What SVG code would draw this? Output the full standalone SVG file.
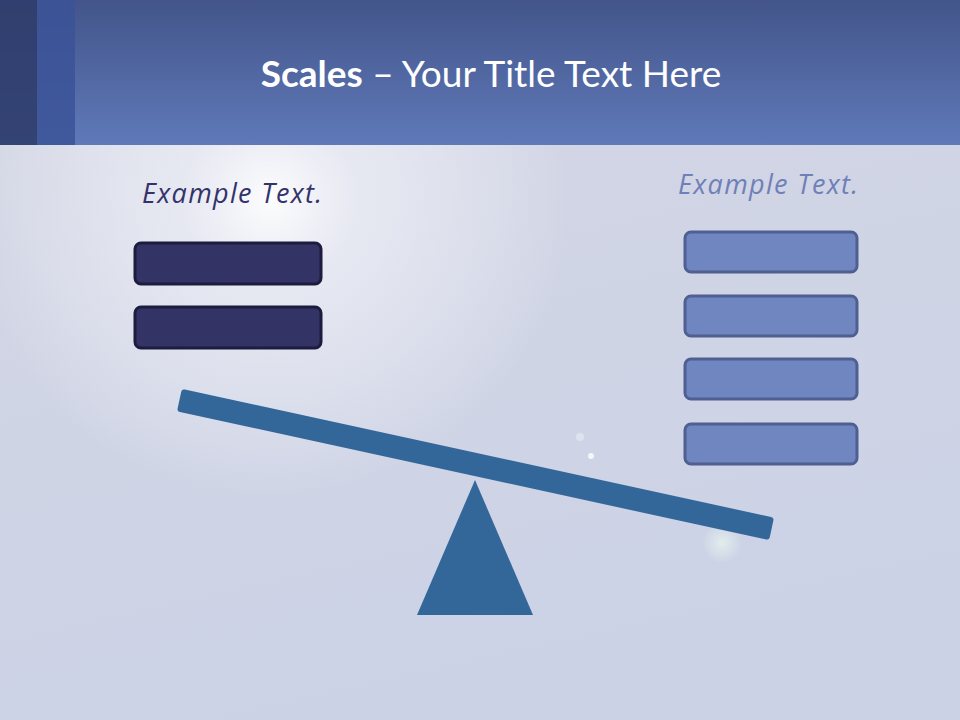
<svg xmlns="http://www.w3.org/2000/svg" width="960" height="720" viewBox="0 0 960 720">
<defs>
<linearGradient id="hdr" x1="0" y1="0" x2="0" y2="1">
<stop offset="0" stop-color="#43558a"/>
<stop offset="1" stop-color="#5f79b9"/>
</linearGradient>
<linearGradient id="bg" x1="0" y1="0" x2="0.3" y2="1">
<stop offset="0" stop-color="#d4d7e4"/>
<stop offset="1" stop-color="#ccd2e6"/>
</linearGradient>
<radialGradient id="sun" cx="270" cy="200" r="300" gradientUnits="userSpaceOnUse">
<stop offset="0" stop-color="#ffffff" stop-opacity="0.95"/>
<stop offset="0.3" stop-color="#f4f4fa" stop-opacity="0.6"/>
<stop offset="1" stop-color="#ffffff" stop-opacity="0"/>
</radialGradient>
<radialGradient id="flare">
<stop offset="0" stop-color="#e6f4ee" stop-opacity="0.8"/>
<stop offset="1" stop-color="#e6f4ee" stop-opacity="0"/>
</radialGradient>
<style>
.lb{fill:#333366;stroke:#1c1c3e;stroke-width:3}
.rb{fill:#6f86c0;stroke:#4f5f92;stroke-width:3}
.bar{fill:#336699}
.ex{font-family:"Open Sans","Noto Sans",sans-serif;font-style:italic;font-size:27px}
</style>
</defs>
<rect x="0" y="0" width="960" height="720" fill="url(#bg)"/>
<rect x="0" y="145" width="960" height="575" fill="url(#sun)"/>
<circle cx="591" cy="456" r="3" fill="#ffffff" opacity="0.8"/>
<circle cx="580" cy="437" r="4" fill="#ffffff" opacity="0.35"/>
<circle cx="722" cy="543" r="20" fill="url(#flare)"/>
<g id="header">
<rect x="0" y="0" width="960" height="145" fill="url(#hdr)"/>
<rect x="0" y="0" width="37" height="145" fill="#2f3d6c" opacity="0.9"/>
<rect x="37" y="0" width="38" height="145" fill="#3b5398" opacity="0.85"/>
<text x="491" y="87" text-anchor="middle" font-family="Lato,'Open Sans',sans-serif" font-size="37" fill="#ffffff"><tspan font-weight="bold">Scales</tspan> – Your Title Text Here</text>
</g>
<g id="left">
<text class="ex" x="142" y="203" textLength="180" fill="#33336a">Example Text.</text>
<rect class="lb" x="135" y="243" width="186" height="41" rx="6"/>
<rect class="lb" x="135" y="307" width="186" height="41" rx="6"/>
</g>
<g id="right">
<text class="ex" x="678" y="194" textLength="180" fill="#6f80b8">Example Text.</text>
<rect class="rb" x="685" y="232" width="172" height="40" rx="6"/>
<rect class="rb" x="685" y="296" width="172" height="40" rx="6"/>
<rect class="rb" x="685" y="359" width="172" height="40" rx="6"/>
<rect class="rb" x="685" y="424" width="172" height="40" rx="6"/>
</g>
<g id="scale">
<rect class="bar" x="-303" y="-11.5" width="606" height="23" rx="3" transform="translate(475.5 464.5) rotate(12.27)"/>
<polygon class="bar" points="475,480 533,615 417,615"/>
</g>
</svg>
